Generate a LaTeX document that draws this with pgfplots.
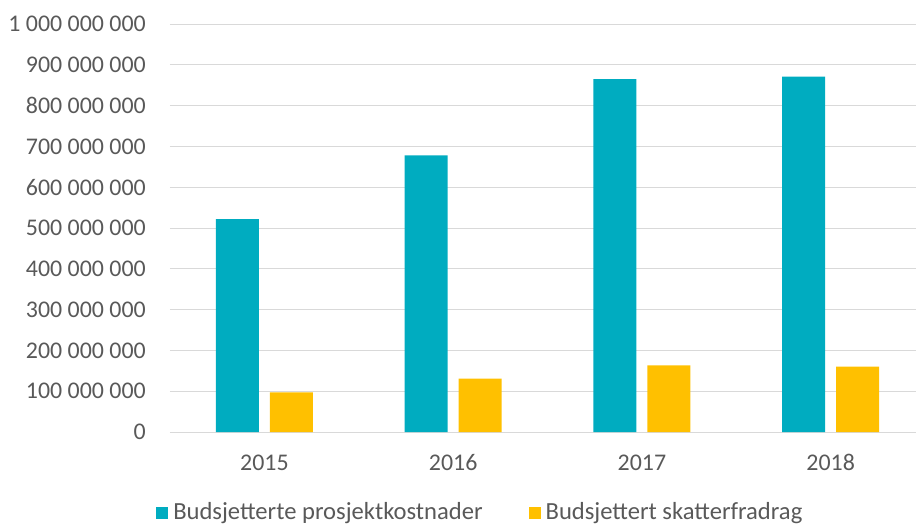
\documentclass[border=0pt]{standalone}
\usepackage{pgfplots}
\pgfplotsset{compat=1.18}
\usepackage{fontspec}
\setmainfont{Carlito}
\definecolor{cblue}{HTML}{00ACC0}
\definecolor{cyel}{HTML}{FFC000}
\definecolor{txt}{HTML}{595959}
\definecolor{gridc}{HTML}{D9D9D9}
\begin{document}
\fontsize{24}{28}\selectfont
\begin{tikzpicture}
\begin{axis}[
  name=ax,
  scale only axis, width=755bp, height=408bp,
  xmin=-0.5, xmax=3.5, ymin=0, ymax=1000000000,
  ybar=11bp, bar width=43bp,
  xtick={0,1,2,3}, xticklabels={2015,2016,2017,2018},
  ytick={0,100000000,200000000,300000000,400000000,500000000,600000000,700000000,800000000,900000000,1000000000},
  scaled y ticks=false,
  /pgf/number format/fixed,
  /pgf/number format/1000 sep={\ },
  /pgf/number format/assume math mode=true,
  yticklabel style={xshift=-16bp, text=txt},
  xticklabel style={text=txt, anchor=north, text height=17bp, text depth=0bp, yshift=-13bp},
  ymajorgrids, grid style={gridc, line width=0.9bp},
  axis x line*=bottom, axis y line*=left,
  y axis line style={draw=none},
  x axis line style={draw=gridc, line width=0.9bp, -},
  major tick length=0pt,
  legend columns=2,
  legend style={at={(0.411,-0.199)}, anchor=center, draw=none, fill=none,
    text=txt, font=\fontsize{24.7}{28}\selectfont,
    /tikz/every even column/.append style={column sep=44bp},
    nodes={inner sep=2bp}},
  legend image code/.code={\fill[#1] (0bp,-6bp) rectangle (12bp,6bp);},
  legend cell align=left,
]
\addplot[fill=cblue, draw=none] coordinates {(0,522000000) (1,678000000) (2,865000000) (3,871000000)};
\addplot[fill=cyel, draw=none] coordinates {(0,97000000) (1,131000000) (2,163000000) (3,160000000)};
\legend{\hspace{3bp}Budsjetterte prosjektkostnader, \hspace{3bp}Budsjettert skatterfradrag}
\end{axis}
\pgfresetboundingbox
\path[use as bounding box] ([xshift=-170bp,yshift=-94bp]ax.south west) rectangle +(916bp,526bp);
\end{tikzpicture}
\end{document}
